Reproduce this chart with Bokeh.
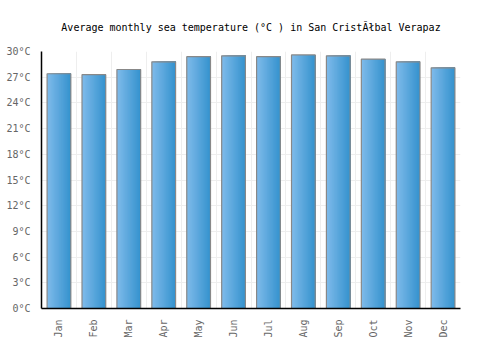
from bokeh.plotting import figure
from bokeh.models import FixedTicker, Title, ColumnDataSource
from bokeh.transform import dodge
from bokeh.embed import file_html
from bokeh.resources import INLINE
import math

months = ["Jan", "Feb", "Mar", "Apr", "May", "Jun", "Jul", "Aug", "Sep", "Oct", "Nov", "Dec"]
sea_temp = [27.4, 27.3, 27.9, 28.8, 29.4, 29.5, 29.4, 29.6, 29.5, 29.1, 28.8, 28.1]
y_ticks = [0, 3, 6, 9, 12, 15, 18, 21, 24, 27, 30]

FONT = "DejaVu Sans Mono"
idx = list(range(len(months)))
src = ColumnDataSource(dict(x=idx, top=sea_temp))

p = figure(width=500, height=350, output_backend="svg", toolbar_location=None,
           x_range=(-0.5, len(months) - 0.5), y_range=(0, 30),
           min_border_left=41, min_border_right=40, min_border_top=51,
           min_border_bottom=42, background_fill_color="white",
           border_fill_color="white", outline_line_color=None)

p.title = Title(text="Average monthly sea temperature (°C ) in San CristĂłbal Verapaz",
                align="center", text_font=FONT, text_font_size="10px",
                text_font_style="normal", text_color="#000000", offset=0,
                standoff=37)

# gradient bars: overlapping strips, each from its left edge to the bar's right edge
bw = 0.68
n = 24
c0 = (0x7e, 0xba, 0xea)
c1 = (0x36, 0x93, 0xce)
for k in range(n):
    t = k / (n - 1)
    col = "#%02x%02x%02x" % tuple(int(round(a + (b - a) * t)) for a, b in zip(c0, c1))
    left = -bw / 2 + bw / n * k
    right = bw / 2
    p.vbar(x=dodge("x", (left + right) / 2), top="top", bottom=0, width=right - left,
           source=src, fill_color=col, line_color=None)
p.vbar(x="x", top="top", bottom=0, width=bw, source=src, fill_color=None,
       line_color="#888888", line_width=1.2)

p.xaxis.ticker = FixedTicker(ticks=idx)
p.xaxis.major_label_overrides = {i: m for i, m in zip(idx, months)}
p.xaxis.major_label_orientation = math.pi / 2
p.yaxis.ticker = FixedTicker(ticks=y_ticks)
p.yaxis.major_label_overrides = {v: f"{v}°C" for v in y_ticks}

for ax in (p.xaxis[0], p.yaxis[0]):
    ax.axis_line_color = "#000000"
    ax.axis_line_width = 1.5
    ax.major_tick_line_color = None
    ax.minor_tick_line_color = None
    ax.major_label_text_font = FONT
    ax.major_label_text_font_size = "10px"
    ax.major_label_text_color = "#666666"
    ax.major_label_standoff = 5

p.xgrid.ticker = FixedTicker(ticks=[i + 0.5 for i in idx])
p.xgrid.grid_line_color = "#eeeeee"
p.ygrid.grid_line_color = "#eeeeee"
p.ygrid.ticker = FixedTicker(ticks=y_ticks)

open("out.html", "w").write(file_html(p, INLINE))
